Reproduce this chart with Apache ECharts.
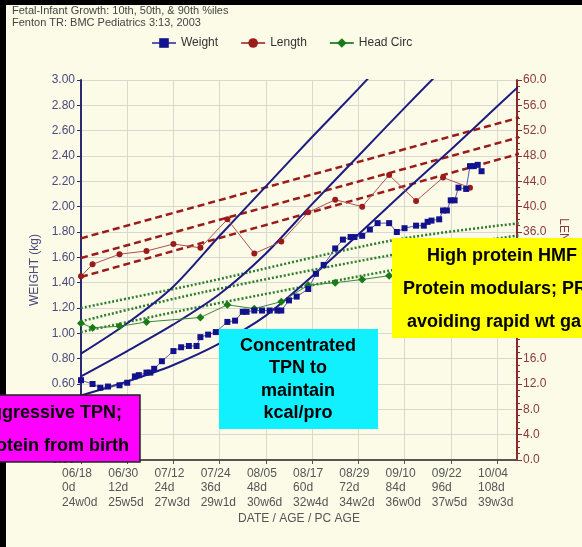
<!DOCTYPE html>
<html><head><meta charset="utf-8">
<script src="https://cdn.jsdelivr.net/npm/echarts@6/dist/echarts.min.js"></script>
<style>html,body{margin:0;padding:0;background:#000;}#c{width:582px;height:547px;}</style>
</head><body><div id="c"></div>
<script>
// ---- tick labels ----
const tickDates = ['06/18','06/30','07/12','07/24','08/05','08/17','08/29','09/10','09/22','10/04'];
const tickAges = ['0d','12d','24d','36d','48d','60d','72d','84d','96d','108d'];
const tickPC = ['24w0d','25w5d','27w3d','29w1d','30w6d','32w4d','34w2d','36w0d','37w5d','39w3d'];

// ---- patient data ----
const weightDays = [0,3,5,7,10,12,14,15,17,18,19,21,24,26,28,30,31,33,35,38,40,42,43,45,47,49,51,52,54,56,59,61,63,66,68,70,71,73,75,77,80,82,84,87,89,90,91,93,94,95,96,97,98,100,101,102,103,104];
const weightKg = [0.63,0.60,0.57,0.58,0.59,0.61,0.66,0.67,0.69,0.69,0.72,0.78,0.86,0.89,0.90,0.90,0.97,0.99,1.01,1.09,1.10,1.17,1.17,1.18,1.18,1.18,1.18,1.18,1.26,1.29,1.35,1.47,1.54,1.67,1.74,1.76,1.76,1.77,1.82,1.87,1.87,1.80,1.83,1.85,1.85,1.88,1.89,1.90,1.97,1.97,2.05,2.05,2.15,2.14,2.32,2.32,2.33,2.28];
const lengthDays = [0,3,10,17,24,31,38,45,52,59,66,73,80,87,94,101];
const lengthCm = [29.0,30.9,32.5,33.0,34.1,33.5,38.0,32.6,34.5,39.1,41.1,40.0,45.0,40.9,44.6,43.0];
const hcDays = [0,3,10,17,31,38,45,52,59,66,73,80];
const hcCm = [21.6,20.9,21.1,21.8,22.5,24.5,23.9,25.0,27.6,28.0,28.5,29.1];

// ---- Fenton percentile curves ----
const wtPctDays = [0,12,24,36,48,60,72,84,96,108,114];
const wt90 = [0.84,1.08,1.37,1.77,2.16,2.55,2.93,3.32,3.70,4.05,4.20];
const wt50 = [0.66,0.86,1.07,1.31,1.63,2.02,2.40,2.78,3.15,3.50,3.70];
const wt10 = [0.51,0.62,0.75,0.92,1.14,1.45,1.78,2.12,2.45,2.79,2.96];
const lenPctDays = [0,114];
const len90 = [35.0,54.1];
const len50 = [31.9,51.0];
const len10 = [28.9,48.4];
const hcPctDays = [0,31,81,114];
const hc90 = [24.0,27.9,34.7,37.4];
const hc50 = [21.9,26.4,32.4,35.5];
const hc10 = [20.2,24.2,30.0,33.5];

const FONT = 'Liberation Sans, Arial, sans-serif';
const zip = (a,b) => a.map((v,i)=>[v,b[i]]);

const pctLine = (xs, ys, axis, color, type, width, smooth) => ({
  type:'line', yAxisIndex: axis, data: zip(xs, ys), showSymbol:false, symbol:'none',
  smooth: smooth, silent:true, z:1,
  lineStyle:{color:color, type:type, width:width}
});

const chart = echarts.init(document.getElementById('c'), null, {renderer:'canvas'});
chart.setOption({
  backgroundColor:'#fbfbe8',
  animation:false,
  textStyle:{fontFamily:FONT},
  legend:{
    data:['Weight','Length','Head Circ'], left:146, top:32, itemWidth:24, itemHeight:12, itemGap:22,
    textStyle:{fontSize:12, color:'#333', fontFamily:FONT}
  },
  grid:{left:81, right:65, top:80, bottom:87},
  xAxis:{
    type:'value', min:0, max:113.2, interval:12,
    name:'DATE / AGE / PC AGE', nameLocation:'middle', nameGap:52,
    nameTextStyle:{fontSize:12, color:'#555', fontFamily:FONT},
    axisLine:{show:true, lineStyle:{color:'#555', width:2}},
    axisTick:{show:true, length:4, lineStyle:{color:'#555'}},
    splitLine:{show:true, lineStyle:{color:'#d9d9d0', width:1}},
    axisLabel:{
      margin:6, showMaxLabel:false,
      formatter:function(v){
        const i = Math.round(v/12);
        if (Math.abs(v - i*12) > 0.01 || i >= tickDates.length) return '';
        return '{a|'+tickDates[i]+'}\n{a|'+tickAges[i]+'}\n{a|'+tickPC[i]+'}';
      },
      rich:{a:{width:38, align:'left', fontSize:12, lineHeight:14.5, color:'#555', fontFamily:FONT}}
    }
  },
  yAxis:[{
    type:'value', min:0, max:3, interval:0.2, position:'left',
    name:'WEIGHT (kg)', nameLocation:'middle', nameGap:29, nameRotate:90,
    nameTextStyle:{fontSize:12, color:'#4a4a80', fontFamily:FONT},
    axisLine:{show:true, lineStyle:{color:'#2a2a70', width:2}},
    axisTick:{show:true, length:4, lineStyle:{color:'#2a2a70'}},
    splitLine:{show:true, lineStyle:{color:'#d9d9d0', width:1}},
    axisLabel:{margin:6, fontSize:12, color:'#4a4a80', formatter:v=>v.toFixed(2)}
  },{
    type:'value', min:0, max:60, interval:4, position:'right',
    name:'LENGTH / HC (cm)', nameLocation:'middle', nameGap:37, nameRotate:-90,
    nameTextStyle:{fontSize:12, color:'#8b3a3a', fontFamily:FONT},
    axisLine:{show:true, lineStyle:{color:'#8b2a2a', width:2}},
    axisTick:{show:true, length:5, lineStyle:{color:'#8b2a2a'}},
    minorTick:{show:true, splitNumber:4, length:3, lineStyle:{color:'#8b2a2a'}},
    splitLine:{show:false},
    axisLabel:{margin:6, fontSize:12, color:'#8b3a3a', formatter:v=>v.toFixed(1)}
  }],
  series:[
    pctLine(hcPctDays, hc90, 1, '#2e7d2e', [2,2], 2.5, 0.3),
    pctLine(hcPctDays, hc50, 1, '#2e7d2e', [2,2], 2.5, 0.3),
    pctLine(hcPctDays, hc10, 1, '#2e7d2e', [2,2], 2.5, 0.3),
    pctLine(lenPctDays, len90, 1, '#9b1b1b', [7,4], 2.5, false),
    pctLine(lenPctDays, len50, 1, '#9b1b1b', [7,4], 2.5, false),
    pctLine(lenPctDays, len10, 1, '#9b1b1b', [7,4], 2.5, false),
    pctLine(wtPctDays, wt90, 0, '#1c1c80', 'solid', 2, 0.3),
    pctLine(wtPctDays, wt50, 0, '#1c1c80', 'solid', 2, 0.3),
    pctLine(wtPctDays, wt10, 0, '#1c1c80', 'solid', 2, 0.3),
    {name:'Weight', type:'line', yAxisIndex:0, data:zip(weightDays, weightKg), z:5,
     symbol:'rect', symbolSize:6, itemStyle:{color:'#12128c'}, lineStyle:{color:'#5a5aa8', width:1}},
    {name:'Length', type:'line', yAxisIndex:1, data:zip(lengthDays, lengthCm), z:4,
     symbol:'circle', symbolSize:6, itemStyle:{color:'#9b1b1b'}, lineStyle:{color:'#b05050', width:1}},
    {name:'Head Circ', type:'line', yAxisIndex:1, data:zip(hcDays, hcCm), z:4,
     symbol:'diamond', symbolSize:8, itemStyle:{color:'#1a7a1a'}, lineStyle:{color:'#3a8a3a', width:1}}
  ],
  graphic:[
    {type:'rect', z:200, shape:{x:0,y:0,width:6,height:547}, style:{fill:'#000'}},
    {type:'rect', z:200, shape:{x:0,y:0,width:582,height:5}, style:{fill:'#000'}},
    {type:'text', z:200, style:{x:12, y:11, text:'Fetal-Infant Growth: 10th, 50th, & 90th %iles', font:'11px '+FONT, fill:'#444', align:'left', verticalAlign:'middle'}},
    {type:'text', z:200, style:{x:12, y:23, text:'Fenton TR: BMC Pediatrics 3:13, 2003', font:'11px '+FONT, fill:'#444', align:'left', verticalAlign:'middle'}},
    // magenta box
    {type:'rect', z:200, shape:{x:-36,y:395,width:176,height:67}, style:{fill:'#ff00ff', stroke:'#222', lineWidth:1.5}},
    {type:'text', z:201, style:{x:50, y:413, text:'Aggressive TPN;', font:'bold 18px '+FONT, fill:'#000', align:'center', verticalAlign:'middle'}},
    {type:'text', z:201, style:{x:53, y:446, text:'Protein from birth', font:'bold 18px '+FONT, fill:'#000', align:'center', verticalAlign:'middle'}},
    // cyan box
    {type:'rect', z:200, shape:{x:219,y:329,width:159,height:100}, style:{fill:'#10f0ff'}},
    {type:'text', z:201, style:{x:298, y:346, text:'Concentrated', font:'bold 18px '+FONT, fill:'#000', align:'center', verticalAlign:'middle'}},
    {type:'text', z:201, style:{x:298, y:368, text:'TPN to', font:'bold 18px '+FONT, fill:'#000', align:'center', verticalAlign:'middle'}},
    {type:'text', z:201, style:{x:298, y:391, text:'maintain', font:'bold 18px '+FONT, fill:'#000', align:'center', verticalAlign:'middle'}},
    {type:'text', z:201, style:{x:298, y:413, text:'kcal/pro', font:'bold 18px '+FONT, fill:'#000', align:'center', verticalAlign:'middle'}},
    // yellow box
    {type:'rect', z:200, shape:{x:392,y:238,width:200,height:100}, style:{fill:'#ffff00'}},
    {type:'text', z:201, style:{x:427, y:256, text:'High protein HMF', font:'bold 18px '+FONT, fill:'#000', align:'left', verticalAlign:'middle'}},
    {type:'text', z:201, style:{x:403, y:289, text:'Protein modulars; PRN', font:'bold 18px '+FONT, fill:'#000', align:'left', verticalAlign:'middle'}},
    {type:'text', z:201, style:{x:407, y:322, text:'avoiding rapid wt gain', font:'bold 18px '+FONT, fill:'#000', align:'left', verticalAlign:'middle'}}
  ]
});
</script></body></html>
